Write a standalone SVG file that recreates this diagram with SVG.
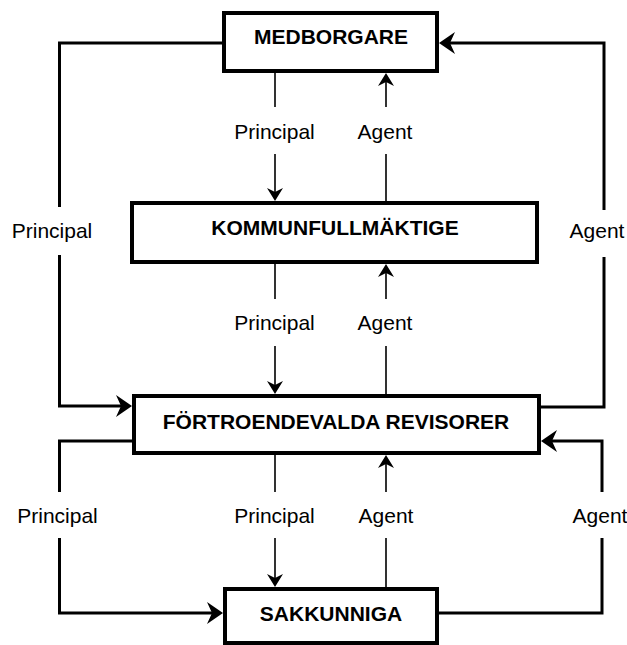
<svg xmlns="http://www.w3.org/2000/svg" width="627" height="645" viewBox="0 0 627 645">
<style>
.box{fill:#fff;stroke:#000;stroke-width:4}
.title{font-family:"Liberation Sans",Arial,sans-serif;font-size:21px;font-weight:bold;text-anchor:middle;fill:#000}
.lbl{font-family:"Liberation Sans",Arial,sans-serif;font-size:21px;text-anchor:middle;fill:#000}
.thick{fill:none;stroke:#000;stroke-width:3;marker-end:url(#big)}
.thin{fill:none;stroke:#000;stroke-width:1.6;marker-end:url(#small)}
</style>
<defs>
<marker id="big" markerUnits="userSpaceOnUse" orient="auto" refX="-10" refY="0" markerWidth="40" markerHeight="40" overflow="visible">
<path d="M0,0 L-16,-11 L-11,0 L-16,11 Z" fill="#000"/>
</marker>
<marker id="small" markerUnits="userSpaceOnUse" orient="auto" refX="-8" refY="0" markerWidth="30" markerHeight="30" overflow="visible">
<path d="M0,0 L-13,-8 L-9,0 L-13,8 Z" fill="#000"/>
</marker>
</defs>
<rect width="627" height="645" fill="#fff"/>
<g id="connectors">
<path class="thick" d="M224,43 H59.5 V207 M59.5,255 V406 H122"/>
<path class="thick" d="M539,407 H604 V257 M604,210 V43 H449"/>
<path class="thick" d="M134,441 H59.5 V492 M59.5,538 V613 H213"/>
<path class="thick" d="M437,613 H602 V538 M602,492 V441 H551"/>
<path class="thin" d="M275,71 V107 M275,154 V193"/>
<path class="thin" d="M386,203 V154 M386,107 V81"/>
<path class="thin" d="M275,262 V299 M275,346 V386"/>
<path class="thin" d="M386,396 V346 M386,299 V272"/>
<path class="thin" d="M275,453 V492 M275,538 V579"/>
<path class="thin" d="M386,589 V538 M386,492 V463"/>
<text class="lbl" x="274.5" y="139">Principal</text>
<text class="lbl" x="385" y="139">Agent</text>
<text class="lbl" x="274.5" y="330">Principal</text>
<text class="lbl" x="385" y="330">Agent</text>
<text class="lbl" x="274.5" y="523">Principal</text>
<text class="lbl" x="386" y="523">Agent</text>
<text class="lbl" x="52" y="238">Principal</text>
<text class="lbl" x="597" y="238">Agent</text>
<text class="lbl" x="57.5" y="523">Principal</text>
<text class="lbl" x="600" y="523">Agent</text>
</g>
<g id="medborgare">
<rect class="box" x="224" y="13" width="213" height="58"/>
<text class="title" x="331" y="43.5">MEDBORGARE</text>
</g>
<g id="kommunfullmaktige">
<rect class="box" x="132" y="203" width="405" height="59"/>
<text class="title" x="335" y="235">KOMMUNFULLMÄKTIGE</text>
</g>
<g id="fortroendevalda">
<rect class="box" x="134" y="396" width="405" height="57"/>
<text class="title" x="336" y="428.5">FÖRTROENDEVALDA REVISORER</text>
</g>
<g id="sakkunniga">
<rect class="box" x="225" y="589" width="212" height="54"/>
<text class="title" x="331" y="621">SAKKUNNIGA</text>
</g>
</svg>
